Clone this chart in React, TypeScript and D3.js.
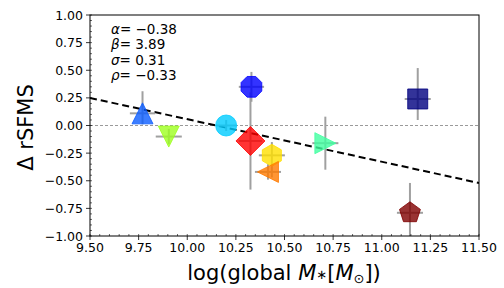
import React from 'react';
import * as d3 from 'd3';

// galaxy points: log stellar mass vs offset from the resolved SFMS
const massX = [9.77, 9.905, 10.2, 10.33, 10.325, 10.435, 10.415, 10.71, 11.185, 11.145];
const deltaY = [0.11, -0.1, 0.0, 0.35, -0.14, -0.27, -0.42, -0.16, 0.24, -0.79];
const xErr = [0.065, 0.067, 0.05, 0.065, 0.06, 0.067, 0.067, 0.067, 0.067, 0.067];
const yErrLo = [0.1, 0.07, 0.05, 0.135, 0.44, 0.2, 0.07, 0.24, 0.19, 0.27];
const yErrHi = [0.2, 0.07, 0.05, 0.135, 0.44, 0.12, 0.07, 0.24, 0.28, 0.27];
const markers = ['^', 'v', 'o', '8', 'D', 'h', '<', '>', 's', 'p'];
const colors = ['#0b5cff', '#9dff1f', '#00ccff', '#0000ff', '#ff0000', '#ffe000', '#ff7b00', '#40ffa0', '#000080', '#800000'];

const fitSlope = -0.385;
const fitIntercept = 3.907;
const statLabels = [
  { sym: 'α', val: '−0.38' },
  { sym: 'β', val: '3.89' },
  { sym: 'σ', val: '0.31' },
  { sym: 'ρ', val: '−0.33' },
];

const xTicks = [9.5, 9.75, 10.0, 10.25, 10.5, 10.75, 11.0, 11.25, 11.5];
const yTicks = [1.0, 0.75, 0.5, 0.25, 0.0, -0.25, -0.5, -0.75, -1.0];

const W = 504;
const H = 288;
const m = { left: 90, right: 479, top: 15, bottom: 236 };

function regularPoly(n: number, r: number, rot: number) {
  return d3.range(n).map(i => {
    const a = rot + (i * 2 * Math.PI) / n;
    return [r * Math.sin(a), -r * Math.cos(a)];
  });
}

function markerPath(kind: string) {
  let pts: number[][] = [];
  const r = 10.5;
  switch (kind) {
    case '^': pts = [[0, -r], [r, r], [-r, r]]; break;
    case 'v': pts = [[0, r], [r, -r], [-r, -r]]; break;
    case '<': pts = [[-r, 0], [r, -r], [r, r]]; break;
    case '>': pts = [[r, 0], [-r, -r], [-r, r]]; break;
    case 's': pts = [[-10, -10], [10, -10], [10, 10], [-10, 10]]; break;
    case 'D': pts = [[0, -14.5], [14.5, 0], [0, 14.5], [-14.5, 0]]; break;
    case '8': pts = regularPoly(8, 11.2, Math.PI / 8); break;
    case 'h': pts = regularPoly(6, 11, 0); break;
    case 'p': pts = regularPoly(5, 11, 0); break;
    default: return d3.symbol(d3.symbolCircle, Math.PI * r * r)() as string;
  }
  return 'M' + pts.map(p => p.join(',')).join('L') + 'Z';
}

export default function App() {
  const x = d3.scaleLinear().domain([9.5, 11.5]).range([m.left, m.right]);
  const y = d3.scaleLinear().domain([-1, 1]).range([m.bottom, m.top]);
  const xMinor = d3.range(9.5, 11.5001, 0.05);
  const yMinor = d3.range(-1, 1.0001, 0.05);
  const font = 'DejaVu Sans, sans-serif';
  const fmt = (v: number) => d3.format('.2f')(v).replace('-', '−');

  return (
    <svg width={W} height={H} style={{ position: 'absolute', left: 0, top: 0, background: '#fff' }} fontFamily={font}>
      <defs>
        <clipPath id="plot">
          <rect x={m.left} y={m.top} width={m.right - m.left} height={m.bottom - m.top} />
        </clipPath>
      </defs>
      <g clipPath="url(#plot)">
        <line x1={m.left} x2={m.right} y1={y(0)} y2={y(0)} stroke="#808080" strokeWidth={0.8} strokeDasharray="3,2" />
        <line x1={x(9.5)} x2={x(11.5)} y1={y(fitSlope * 9.5 + fitIntercept)} y2={y(fitSlope * 11.5 + fitIntercept)}
          stroke="#000" strokeWidth={2} strokeDasharray="7,4" />
        {massX.map((mx, i) => (
          <g key={'e' + i} stroke="#a0a0a0" strokeWidth={2}>
            <line x1={x(mx - xErr[i])} x2={x(mx + xErr[i])} y1={y(deltaY[i])} y2={y(deltaY[i])} />
            <line x1={x(mx)} x2={x(mx)} y1={y(deltaY[i] - yErrLo[i])} y2={y(deltaY[i] + yErrHi[i])} />
          </g>
        ))}
        {massX.map((mx, i) => (
          <path key={'m' + i} d={markerPath(markers[i])} transform={`translate(${x(mx)},${y(deltaY[i])})`}
            fill={colors[i]} fillOpacity={0.8} stroke={colors[i]} strokeOpacity={0.8} strokeWidth={1} />
        ))}
      </g>
      {statLabels.map((s, i) => (
        <text key={s.sym} x={111} y={34 + i * 15.3} fontSize={13.5} fill="#000">
          <tspan fontStyle="italic">{s.sym}</tspan>
          <tspan>{'= ' + s.val}</tspan>
        </text>
      ))}
      <rect x={m.left} y={m.top} width={m.right - m.left} height={m.bottom - m.top} fill="none" stroke="#000" strokeWidth={1} />
      {xMinor.map((v, i) => (
        <line key={'xm' + i} x1={x(v)} x2={x(v)} y1={m.bottom} y2={m.bottom - 2} stroke="#000" strokeWidth={0.6} />
      ))}
      {yMinor.map((v, i) => (
        <line key={'ym' + i} x1={m.left} x2={m.left + 2} y1={y(v)} y2={y(v)} stroke="#000" strokeWidth={0.6} />
      ))}
      {xTicks.map(v => (
        <g key={'xt' + v}>
          <line x1={x(v)} x2={x(v)} y1={m.bottom} y2={m.bottom + 4} stroke="#000" strokeWidth={0.8} />
          <text x={x(v)} y={m.bottom + 16} fontSize={12.5} textAnchor="middle">{fmt(v)}</text>
        </g>
      ))}
      {yTicks.map(v => (
        <g key={'yt' + v}>
          <line x1={m.left} x2={m.left - 4} y1={y(v)} y2={y(v)} stroke="#000" strokeWidth={0.8} />
          <text x={m.left - 7} y={y(v) + 4.5} fontSize={12.5} textAnchor="end">{fmt(v)}</text>
        </g>
      ))}
      <text x={284} y={280} fontSize={21} textAnchor="middle">
        log(global <tspan fontStyle="italic">M</tspan>
        <tspan fontSize={13} dy={-1}>∗</tspan>
        <tspan dy={1}>[</tspan>
        <tspan fontStyle="italic">M</tspan>
        <tspan fontSize={13} dy={3}>⊙</tspan>
        <tspan dy={-3}>])</tspan>
      </text>
      <text transform={`translate(33,127.5) rotate(-90)`} fontSize={21} textAnchor="middle">Δ rSFMS</text>
    </svg>
  );
}
